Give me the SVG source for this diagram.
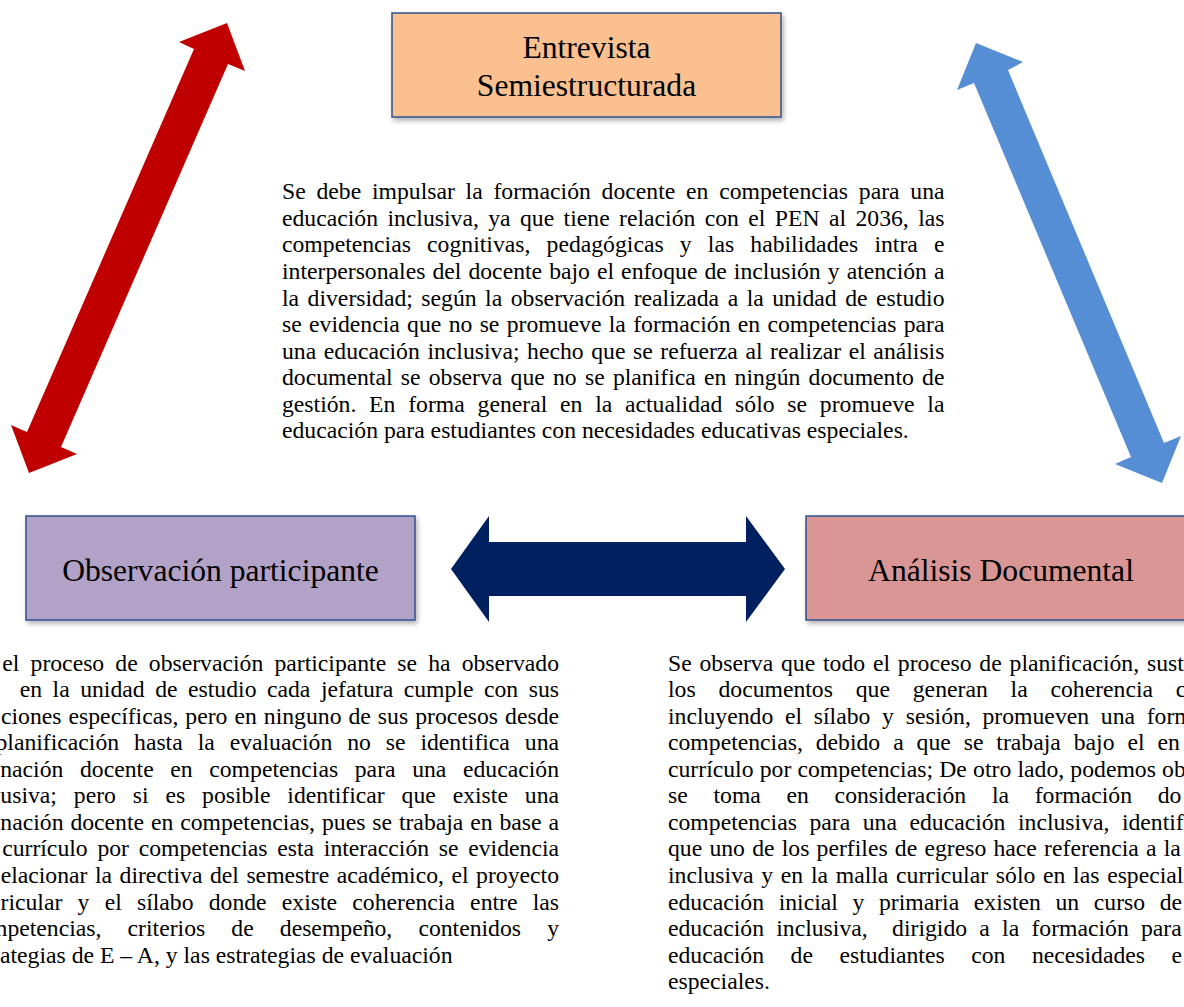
<svg xmlns="http://www.w3.org/2000/svg" width="1184" height="1007" viewBox="0 0 1184 1007">
<defs>
<filter id="sh" x="-10%" y="-10%" width="130%" height="140%"><feDropShadow dx="2" dy="3" stdDeviation="2.5" flood-color="#000" flood-opacity="0.3"/></filter>
</defs>
<style>
.box{stroke:#2F528F;stroke-width:1.5;filter:url(#sh)}
.lbl{font-family:"Liberation Serif","Times New Roman",serif;font-size:31.6px;fill:#000;text-anchor:middle}
.p{font-family:"Liberation Serif","Times New Roman",serif;font-size:23.7px;fill:#000}
.e{text-anchor:end}
</style>
<rect width="1184" height="1007" fill="#fff"/>
<g id="connectors">
<polygon id="arrow-red" fill="#C00000" points="227,23 245,71 228,64 61,447 77,454 29,473 11,425 27,432 194,49 179,42"/>
<polygon id="arrow-blue" fill="#558ED5" points="976,43 1023,62 1008,70 1164,443 1181,436 1162,483 1115,464 1131,457 974,83 957,90"/>
<polygon id="arrow-navy" fill="#002060" points="451,569 489,516 489,542 746,542 746,516 785,569 746,622 746,596 489,596 489,622"/>
</g>
<g id="node-entrevista">
<rect class="box" x="392" y="13" width="389" height="104" fill="#FAC090"/>
<text class="lbl" x="586.5" y="57.5">Entrevista</text>
<text class="lbl" x="586.5" y="95.5">Semiestructurada</text>
</g>
<g id="node-observacion">
<rect class="box" x="26" y="516" width="389" height="104" fill="#B3A2C7"/>
<text class="lbl" x="220.5" y="581">Observación participante</text>
</g>
<g id="node-analisis">
<rect class="box" x="806" y="516" width="390" height="104" fill="#D99694"/>
<text class="lbl" x="1001" y="581">Análisis Documental</text>
</g>
<g id="text-entrevista" class="p">
<text x="282" y="199.3" style="word-spacing:4.85px">Se debe impulsar la formación docente en competencias para una</text>
<text x="282" y="225.9" style="word-spacing:3.48px">educación inclusiva, ya que tiene relación con el PEN al 2036, las</text>
<text x="282" y="252.4" style="word-spacing:10.26px">competencias cognitivas, pedagógicas y las habilidades intra e</text>
<text x="282" y="279" style="word-spacing:1.13px">interpersonales del docente bajo el enfoque de inclusión y atención a</text>
<text x="282" y="305.5" style="word-spacing:2.58px">la diversidad; según la observación realizada a la unidad de estudio</text>
<text x="282" y="332.1" style="word-spacing:1.4px">se evidencia que no se promueve la formación en competencias para</text>
<text x="282" y="358.6" style="word-spacing:1.66px">una educación inclusiva; hecho que se refuerza al realizar el análisis</text>
<text x="282" y="385.2" style="word-spacing:2.31px">documental se observa que no se planifica en ningún documento de</text>
<text x="282" y="411.7" style="word-spacing:6.85px">gestión. En forma general en la actualidad sólo se promueve la</text>
<text x="282" y="438.3">educación para estudiantes con necesidades educativas especiales.</text>
</g>
<g id="text-observacion" class="p">
<text class="e" x="559" y="670.5" style="word-spacing:5.2px">el proceso de observación participante se ha observado</text>
<text class="e" x="559" y="697.1" style="word-spacing:4.6px">en la unidad de estudio cada jefatura cumple con sus</text>
<text class="e" x="559" y="723.6" style="word-spacing:1.09px">ciones específicas, pero en ninguno de sus procesos desde</text>
<text class="e" x="559" y="750.2" style="word-spacing:9px">planificación hasta la evaluación no se identifica una</text>
<text class="e" x="559" y="776.7" style="word-spacing:10.7px">nación docente en competencias para una educación</text>
<text class="e" x="559" y="803.3" style="word-spacing:10.96px">usiva; pero si es posible identificar que existe una</text>
<text class="e" x="559" y="829.8" style="word-spacing:0.98px">nación docente en competencias, pues se trabaja en base a</text>
<text class="e" x="559" y="856.4" style="word-spacing:3.8px">currículo por competencias esta interacción se evidencia</text>
<text class="e" x="559" y="882.9" style="word-spacing:1.6px">elacionar la directiva del semestre académico, el proyecto</text>
<text class="e" x="559" y="909.5" style="word-spacing:9.3px">ricular y el sílabo donde existe coherencia entre las</text>
<text class="e" x="559" y="936" style="word-spacing:20.2px">npetencias, criterios de desempeño, contenidos y</text>
<text x="0" y="962.6">ategias de E – A, y las estrategias de evaluación</text>
</g>
<g id="text-analisis" class="p">
<text x="668" y="670.5" style="word-spacing:1.9px">Se observa que todo el proceso de planificación, sust</text>
<text x="668" y="697.1" style="word-spacing:16.9px">los documentos que generan la coherencia c</text>
<text x="668" y="723.6" style="word-spacing:5.8px">incluyendo el sílabo y sesión, promueven una form</text>
<text x="668" y="750.2" style="word-spacing:7px">competencias, debido a que se trabaja bajo el en</text>
<text x="668" y="776.7" style="word-spacing:0.3px">currículo por competencias; De otro lado, podemos ob</text>
<text x="668" y="803.3" style="word-spacing:19.8px">se toma en consideración la formación do</text>
<text x="668" y="829.8" style="word-spacing:6.6px">competencias para una educación inclusiva, identif</text>
<text x="668" y="856.4" style="word-spacing:1.3px">que uno de los perfiles de egreso hace referencia a la</text>
<text x="668" y="882.9" style="word-spacing:1.8px">inclusiva y en la malla curricular sólo en las especial</text>
<text x="668" y="909.5" style="word-spacing:8.7px">educación inicial y primaria existen un curso de</text>
<text x="668" y="936" style="word-spacing:6.3px">educación inclusiva,&#160; dirigido a la formación para</text>
<text x="668" y="962.6" style="word-spacing:20.6px">educación de estudiantes con necesidades e</text>
<text x="668" y="989.1">especiales.</text>
</g>
</svg>
